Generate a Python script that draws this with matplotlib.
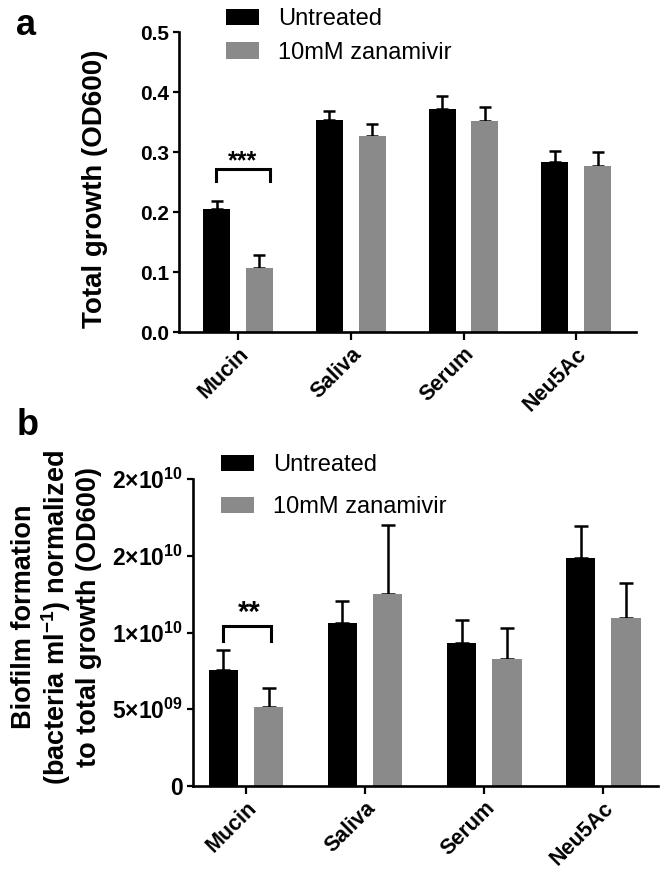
import numpy as np
import matplotlib
matplotlib.use("Agg")
import matplotlib.pyplot as plt
from matplotlib import font_manager as fm

categories = ["Mucin", "Saliva", "Serum", "Neu5Ac"]
series_names = ["Untreated", "10mM zanamivir"]

# Panel a: total growth (OD600)
growth_untreated = [0.205, 0.354, 0.371, 0.283]
growth_untreated_err = [0.014, 0.015, 0.022, 0.018]
growth_zanamivir = [0.107, 0.326, 0.352, 0.276]
growth_zanamivir_err = [0.021, 0.020, 0.023, 0.024]
growth_yticks = [0.0, 0.1, 0.2, 0.3, 0.4, 0.5]
growth_yticklabels = ["0.0", "0.1", "0.2", "0.3", "0.4", "0.5"]

# Panel b: biofilm formation normalized
biofilm_untreated = [7.56e9, 10.62e9, 9.31e9, 14.87e9]
biofilm_untreated_err = [1.28e9, 1.45e9, 1.51e9, 2.05e9]
biofilm_zanamivir = [5.13e9, 12.52e9, 8.30e9, 10.95e9]
biofilm_zanamivir_err = [1.25e9, 4.46e9, 2.00e9, 2.26e9]
biofilm_yticks = [0, 5e9, 1e10, 1.5e10, 2e10]
biofilm_yticklabels = ["0", r"5×10$^{\mathbf{09}}$", r"1×10$^{\mathbf{10}}$",
                       r"2×10$^{\mathbf{10}}$", r"2×10$^{\mathbf{10}}$"]


def has_font(name):
    try:
        fm.findfont(fm.FontProperties(family=name), fallback_to_default=False)
        return True
    except Exception:
        return False

base = "Liberation Sans" if has_font("Liberation Sans") else "DejaVu Sans"
narrow = "Liberation Sans Narrow" if has_font("Liberation Sans Narrow") else base
plt.rcParams["font.family"] = [base, "DejaVu Sans"]
plt.rcParams["mathtext.fontset"] = "custom"
plt.rcParams["mathtext.rm"] = base
plt.rcParams["mathtext.bf"] = base + ":bold"

BLACK = "#000000"
GREY = "#8a8a8a"
W, H = 669, 882
fig = plt.figure(figsize=(W / 100, H / 100), dpi=100)

def style_axes(ax, xlim, ylim, yticks, yticklabels, ytick_fs):
    ax.set_xlim(*xlim)
    ax.set_ylim(*ylim)
    for s in ["top", "right"]:
        ax.spines[s].set_visible(False)
    for s in ["left", "bottom"]:
        ax.spines[s].set_linewidth(1.9)
    ax.set_xticks(np.arange(len(categories)))
    ax.set_xticklabels(categories, rotation=45, ha="right", va="top",
                       rotation_mode="anchor", fontsize=15.5, fontweight="bold")
    ax.set_yticks(yticks)
    ax.set_yticklabels(yticklabels, fontsize=ytick_fs, fontweight="bold")
    ax.tick_params(axis="y", length=4, width=1.6, pad=3)
    ax.tick_params(axis="x", length=5.5, width=1.6, pad=3)


def draw_bars(ax, v1, e1, v2, e2, off, width, capsize):
    x = np.arange(len(categories))
    ax.bar(x - off, v1, width, color=BLACK, label=series_names[0], zorder=2)
    ax.bar(x + off, v2, width, color=GREY, label=series_names[1], zorder=2)
    z = np.zeros(len(categories))
    ax.errorbar(x - off, v1, yerr=[z, e1], fmt="none", ecolor="black",
                elinewidth=1.8, capsize=capsize, capthick=1.8, zorder=1)
    ax.errorbar(x + off, v2, yerr=[z, e2], fmt="none", ecolor="black",
                elinewidth=1.8, capsize=capsize, capthick=1.8, zorder=1)

# ---------------- Panel a ----------------
axa = fig.add_axes([179 / W, 1 - 332 / H, (636 - 179) / W, (332 - 32) / H])
draw_bars(axa, growth_untreated, growth_untreated_err,
          growth_zanamivir, growth_zanamivir_err, 0.19, 0.24, 4)
style_axes(axa, (-0.524, 3.53), (0, 0.5), growth_yticks, growth_yticklabels, 15)
axa.set_ylabel("Total growth (OD600)", fontsize=20, fontweight="bold",
               family=[narrow, base])
axa.yaxis.set_label_coords(-0.155, 0.477)
axa.plot([-0.2, -0.2, 0.28, 0.28], [0.251, 0.271, 0.271, 0.251],
         color="black", lw=2.2, solid_joinstyle="miter")
axa.text(0.04, 0.285, "***", ha="center", va="center", fontsize=18,
         fontweight="bold")
axa.legend(loc="upper left", bbox_to_anchor=(226 / W, 1 - 8 / H),
           bbox_transform=fig.transFigure, frameon=False, fontsize=17,
           handlelength=1.4, handleheight=0.68, handletextpad=0.8,
           labelspacing=0.5, borderpad=0, borderaxespad=0)
fig.text(16 / W, 1 - 35 / H, "a", fontsize=26, fontweight="bold",
         ha="left", va="baseline")

# ---------------- Panel b ----------------
axb = fig.add_axes([193 / W, 1 - 786 / H, (658 - 193) / W, (786 - 479) / H])
draw_bars(axb, biofilm_untreated, biofilm_untreated_err,
          biofilm_zanamivir, biofilm_zanamivir_err, 0.19, 0.248, 5)
style_axes(axb, (-0.445, 3.46), (0, 2e10), biofilm_yticks,
           biofilm_yticklabels, 16.5)
axb.set_ylabel("Biofilm formation\n(bacteria ml$^{\\mathbf{-1}}$) normalized\nto total growth (OD600)",
               fontsize=19.5, fontweight="bold", linespacing=1.12,
               family=[narrow, base], ha="center")
axb.yaxis.set_label_coords(-0.196, 0.55)
axb.plot([-0.19, -0.19, 0.21, 0.21], [9.47e9, 10.42e9, 10.42e9, 9.47e9],
         color="black", lw=2.2, solid_joinstyle="miter")
axb.text(0.03, 11.3e9, "**", ha="center", va="center", fontsize=21,
         fontweight="bold")
axb.legend(loc="upper left", bbox_to_anchor=(221 / W, 1 - 454 / H),
           bbox_transform=fig.transFigure, frameon=False, fontsize=17,
           handlelength=1.4, handleheight=0.68, handletextpad=0.8,
           labelspacing=0.85, borderpad=0, borderaxespad=0)
fig.text(17 / W, 1 - 435 / H, "b", fontsize=26, fontweight="bold",
         ha="left", va="baseline")

fig.savefig("out.png", dpi=100)
